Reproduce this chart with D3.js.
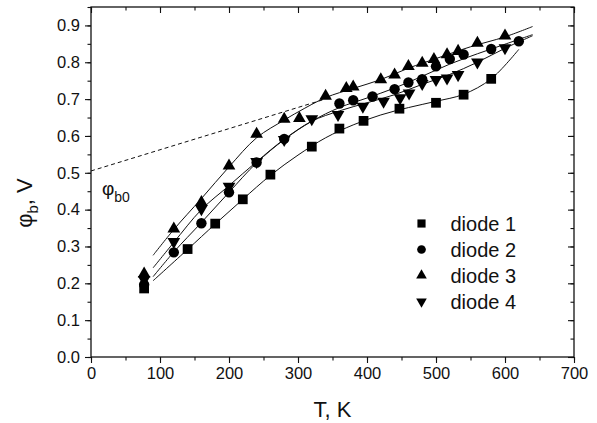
<!DOCTYPE html>
<html>
<head>
<meta charset="utf-8">
<script src="https://cdn.jsdelivr.net/npm/d3@7"></script>
<style>
  body { margin: 0; background: #fff; }
  text { font-family: "Liberation Sans", Arial, sans-serif; fill: #111; }
</style>
</head>
<body>
<svg id="chart" width="597" height="423"></svg>
<script>
// measured points, T in K and phi_b in V
var d1T = [77, 140, 180, 220, 260, 320, 360, 395, 447, 500, 540, 580];
var d1V = [0.186, 0.293, 0.362, 0.428, 0.495, 0.571, 0.620, 0.641, 0.674, 0.690, 0.712, 0.755];

var d2T = [77, 120, 160, 200, 240, 280, 360, 380, 408, 440, 460, 480, 500, 520, 540, 580, 620];
var d2V = [0.196, 0.284, 0.363, 0.447, 0.528, 0.592, 0.688, 0.697, 0.707, 0.727, 0.745, 0.754, 0.789, 0.809, 0.821, 0.836, 0.857];

var d3T = [77, 120, 160, 200, 240, 280, 302, 340, 370, 380, 420, 440, 460, 480, 497, 516, 532, 560, 600];
var d3V = [0.226, 0.348, 0.420, 0.519, 0.605, 0.646, 0.648, 0.708, 0.729, 0.733, 0.753, 0.766, 0.789, 0.798, 0.808, 0.821, 0.830, 0.852, 0.872];

var d4T = [77, 120, 160, 200, 240, 280, 320, 358, 394, 424, 448, 461, 480, 500, 516, 532, 560, 600];
var d4V = [0.210, 0.313, 0.402, 0.463, 0.530, 0.590, 0.646, 0.658, 0.680, 0.694, 0.703, 0.716, 0.742, 0.753, 0.757, 0.766, 0.800, 0.839];

// fitted curves (vertices)
var f1T = [90, 140, 180, 220, 260, 300, 340, 380, 420, 460, 500, 540, 580, 620];
var f1V = [0.207, 0.292, 0.361, 0.428, 0.493, 0.548, 0.595, 0.630, 0.657, 0.677, 0.694, 0.713, 0.755, 0.835];
var f2T = [90, 120, 160, 200, 240, 280, 320, 360, 400, 440, 480, 520, 560, 600, 640];
var f2V = [0.218, 0.285, 0.365, 0.447, 0.527, 0.590, 0.640, 0.677, 0.703, 0.730, 0.762, 0.795, 0.823, 0.849, 0.875];
var f3T = [90, 120, 160, 200, 240, 280, 300, 340, 380, 420, 460, 500, 550, 600, 640];
var f3V = [0.276, 0.346, 0.430, 0.516, 0.595, 0.643, 0.665, 0.704, 0.729, 0.753, 0.784, 0.810, 0.842, 0.869, 0.897];
var f4T = [90, 120, 160, 200, 240, 280, 320, 360, 400, 440, 480, 520, 560, 600, 640];
var f4V = [0.242, 0.311, 0.400, 0.465, 0.530, 0.591, 0.640, 0.668, 0.690, 0.712, 0.740, 0.767, 0.800, 0.838, 0.872];

// extrapolated line to phi_b0
var extT = [0, 336];
var extV = [0.505, 0.698];

var names = ["diode 1", "diode 2", "diode 3", "diode 4"];
var xTicks = [0, 100, 200, 300, 400, 500, 600, 700];
var yTicks = [0.0, 0.1, 0.2, 0.3, 0.4, 0.5, 0.6, 0.7, 0.8, 0.9];

var svg = d3.select("#chart");
var x = d3.scaleLinear().domain([0, 700]).range([91, 574]);
var y = d3.scaleLinear().domain([0, 0.95]).range([357, 7]);

// axes: left/bottom ticks outward, top/right ticks inward
var minorX = d3.range(0, 701, 50), minorY = d3.range(0, 0.951, 0.05);
svg.append("g").attr("transform", "translate(0,357)")
    .call(d3.axisBottom(x).tickValues(minorX).tickSize(3.5).tickFormat(""));
svg.append("g").attr("transform", "translate(0,357)")
    .call(d3.axisBottom(x).tickValues(xTicks).tickSize(6).tickPadding(4).tickFormat(d3.format("d")))
    .selectAll("text").style("font-size", "16.5px");
svg.append("g").attr("transform", "translate(0,7)")
    .call(d3.axisBottom(x).tickValues(minorX).tickSize(3.5).tickFormat(""));
svg.append("g").attr("transform", "translate(0,7)")
    .call(d3.axisBottom(x).tickValues(xTicks).tickSize(6).tickFormat(""));
svg.append("g").attr("transform", "translate(91,0)")
    .call(d3.axisLeft(y).tickValues(minorY).tickSize(3.5).tickFormat(""));
svg.append("g").attr("transform", "translate(91,0)")
    .call(d3.axisLeft(y).tickValues(yTicks).tickSize(6).tickPadding(5).tickFormat(d3.format(".1f")))
    .selectAll("text").style("font-size", "16.5px");
svg.append("g").attr("transform", "translate(574,0)")
    .call(d3.axisLeft(y).tickValues(minorY).tickSize(3.5).tickFormat(""));
svg.append("g").attr("transform", "translate(574,0)")
    .call(d3.axisLeft(y).tickValues(yTicks).tickSize(6).tickFormat(""));
svg.selectAll(".domain").remove();
svg.selectAll(".tick line").attr("stroke", "#111").attr("stroke-width", 1.1);
svg.append("rect").attr("x", 91).attr("y", 7).attr("width", 483).attr("height", 350)
    .attr("fill", "none").attr("stroke", "#111").attr("stroke-width", 1.3);

// fitted lines
var line = d3.line().x(function(d) { return x(d[0]); }).y(function(d) { return y(d[1]); })
    .curve(d3.curveCatmullRom);
[[f1T, f1V], [f2T, f2V], [f3T, f3V], [f4T, f4V]].forEach(function(f) {
    svg.append("path").datum(d3.zip(f[0], f[1])).attr("d", line)
        .attr("fill", "none").attr("stroke", "#111").attr("stroke-width", 1);
});
svg.append("path").datum(d3.zip(extT, extV)).attr("d", d3.line().x(function(d) { return x(d[0]); }).y(function(d) { return y(d[1]); }))
    .attr("fill", "none").attr("stroke", "#111").attr("stroke-width", 1).attr("stroke-dasharray", "4,3");

// markers
var shapes = [
    { type: d3.symbolSquare, size: 95, rot: 0 },
    { type: d3.symbolCircle, size: 85, rot: 0 },
    { type: d3.symbolTriangle, size: 70, rot: 0 },
    { type: d3.symbolTriangle, size: 70, rot: 180 }
];
var series = [[d1T, d1V], [d2T, d2V], [d3T, d3V], [d4T, d4V]];
series.forEach(function(s, i) {
    var sh = shapes[i];
    svg.append("g").selectAll("path").data(d3.zip(s[0], s[1])).enter().append("path")
        .attr("d", d3.symbol().type(sh.type).size(sh.size))
        .attr("transform", function(d) {
            return "translate(" + x(d[0]) + "," + y(d[1]) + ") rotate(" + sh.rot + ")";
        })
        .attr("fill", "#000");
});

// legend
names.forEach(function(n, i) {
    var ly = 223.5 + i * 26;
    var sh = shapes[i];
    svg.append("path").attr("d", d3.symbol().type(sh.type).size(sh.size * 0.7))
        .attr("transform", "translate(421.5," + ly + ") rotate(" + sh.rot + ")").attr("fill", "#000");
    svg.append("text").attr("x", 450.5).attr("y", ly + 7.5).style("font-size", "20px").text(n);
});

// phi_b0 label
var lab = svg.append("text").attr("x", 102).attr("y", 195).style("font-size", "19px");
lab.append("tspan").text("\u03C6");
lab.append("tspan").attr("dy", 7).style("font-size", "14px").text("b0");

// axis titles
svg.append("text").attr("x", 332.5).attr("y", 417).attr("text-anchor", "middle")
    .style("font-size", "22px").text("T, K");
var yl = svg.append("text").attr("transform", "translate(32,203) rotate(-90)")
    .attr("text-anchor", "middle").style("font-size", "22px");
yl.append("tspan").text("\u03C6");
yl.append("tspan").attr("dy", 6).style("font-size", "15px").text("b");
yl.append("tspan").attr("dy", -6).text(", V");
</script>
</body>
</html>
